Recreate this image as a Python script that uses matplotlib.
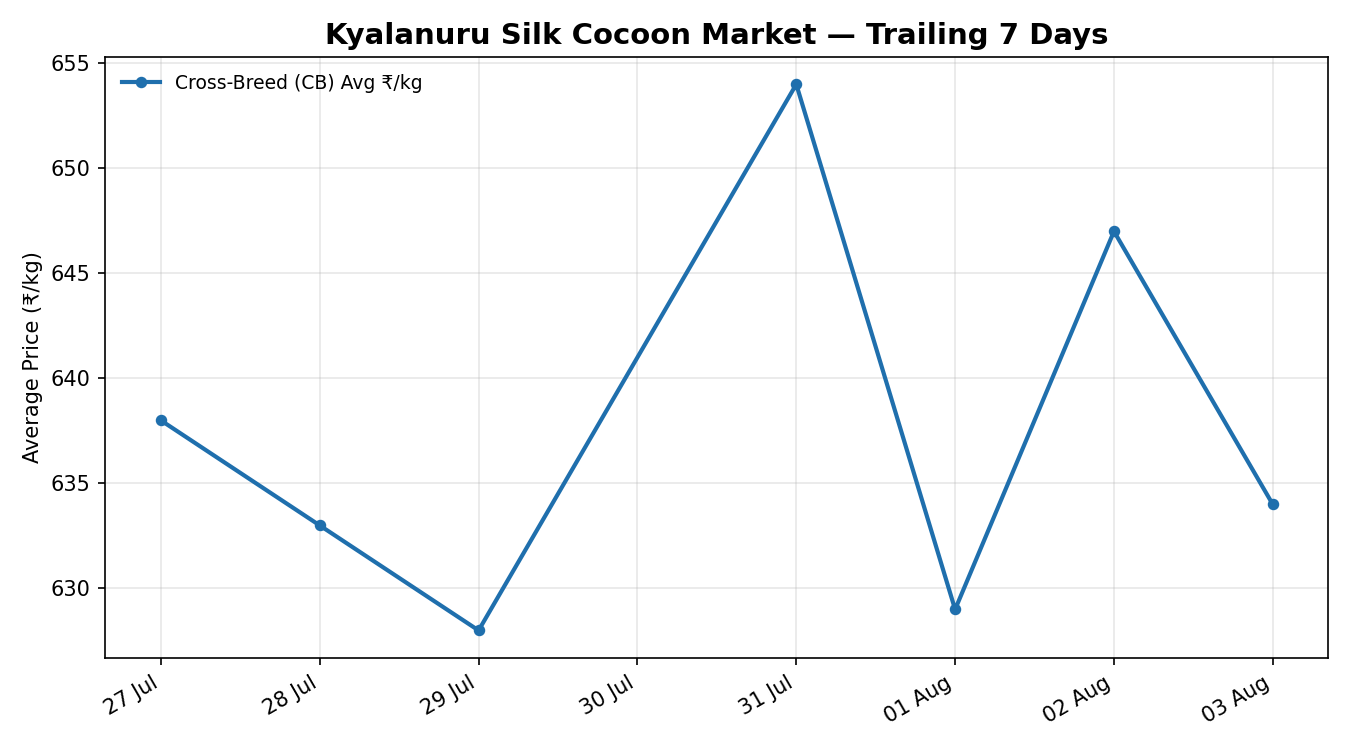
import numpy as np
import pandas as pd
import matplotlib
matplotlib.use("Agg")
import matplotlib.pyplot as plt
import matplotlib.dates as mdates

plt.rcParams["font.family"] = ["DejaVu Sans"]

# data (30 Jul has no market data)
dates = ["2024-07-27", "2024-07-28", "2024-07-29", "2024-07-31",
         "2024-08-01", "2024-08-02", "2024-08-03"]
cb_avg_price = [638, 633, 628, 654, 629, 647, 634]

x = pd.to_datetime(dates)

fig, ax = plt.subplots(figsize=(9, 5), dpi=150)
fig.subplots_adjust(left=0.078, right=0.984, top=0.924, bottom=0.123)

ax.plot(x, cb_avg_price, color="#1f6fad", linewidth=2.0, marker="o",
        markersize=4.5, label="Cross-Breed (CB) Avg ₹/kg")

ax.set_title("Kyalanuru Silk Cocoon Market — Trailing 7 Days",
             fontsize=14, fontweight="bold")
ax.set_ylabel("Average Price (₹/kg)", fontsize=10)
ax.grid(True, alpha=0.3)

ax.xaxis.set_major_locator(mdates.DayLocator())
ax.xaxis.set_major_formatter(mdates.DateFormatter("%d %b"))
ax.tick_params(labelsize=10)
plt.setp(ax.get_xticklabels(), rotation=30, ha="right")

ax.legend(loc="upper left", frameon=False, fontsize=9)

fig.savefig("out.png")
